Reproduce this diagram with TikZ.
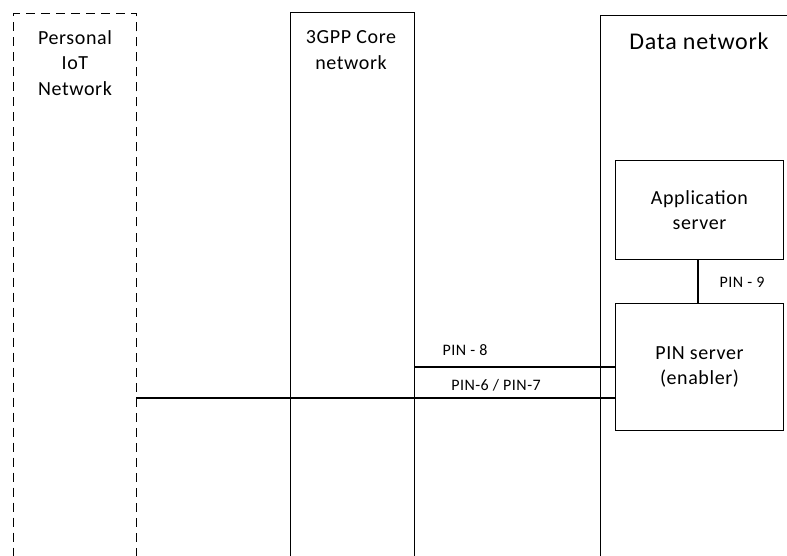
\documentclass[tikz,border=0pt]{standalone}
\usepackage{fontspec}
\setmainfont{Carlito}[LetterSpace=3]
\begin{document}
\begin{tikzpicture}[x=1pt,y=-1pt,
  net/.style={draw,line width=1pt,anchor=north west,inner sep=0pt},
  srv/.style={draw,line width=1pt,anchor=north west,inner sep=0pt},
  lab/.style={font=\fontsize{20}{25.5}\selectfont,align=center},
  conn/.style={line width=1.4pt},
  clab/.style={font=\fontsize{16}{18}\selectfont}]
\useasboundingbox (0,0) rectangle (787,556);
\clip (0,0) rectangle (787,556);
% network columns
\node[net,dashed,dash pattern=on 9pt off 6pt,minimum width=123pt,minimum height=600pt] (iot) at (13,13) {};
\node[net,minimum width=124pt,minimum height=600pt] (core) at (290,12) {};
\node[net,minimum width=250pt,minimum height=600pt] (dn) at (600,15) {};
% titles
\node[lab] (iott) at (75,63) {Personal\\IoT\\Network};
\node[lab] (coret) at (351,50) {3GPP Core\\network};
\node[font=\fontsize{24}{28}\selectfont] (dnt) at (699,41) {Data network};
% servers
\node[srv,minimum width=168pt,minimum height=99pt] (as) at (615,160) {};
\node[lab] at (as.center) {Application\\server};
\node[srv,minimum width=168pt,minimum height=127pt] (pin) at (615,303) {};
\node[lab] at (pin.center) {PIN server\\(enabler)};
% connectors
\coordinate (c9) at (698,259);
\draw[conn] (c9) -- (c9 |- pin.north);
\coordinate (c8) at (414,367);
\draw[conn] (c8) -- (c8 -| pin.west);
\coordinate (c67) at (136,398);
\draw[conn] (c67) -- (c67 -| pin.west);
% connector labels
\node[clab] (l9) at (742,282) {PIN - 9};
\node[clab] (l8) at (465,350) {PIN - 8};
\node[clab] (l67) at (496,385) {PIN-6 / PIN-7};
\end{tikzpicture}
\end{document}
